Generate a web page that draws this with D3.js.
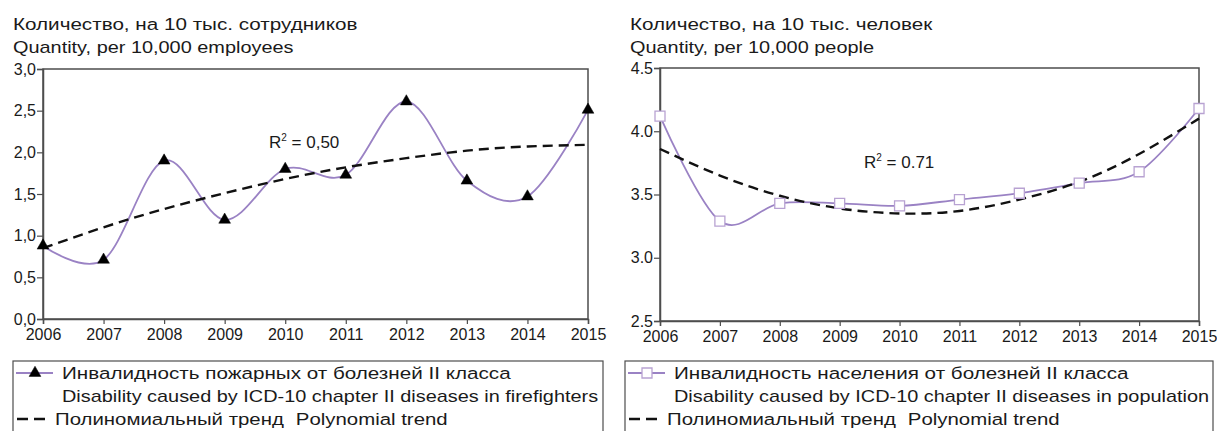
<!DOCTYPE html>
<html>
<head>
<meta charset="utf-8">
<script src="https://cdn.jsdelivr.net/npm/d3@7"></script>
<style>
  body { margin: 0; background: #fff; }
  text { font-family: "Liberation Sans", Arial, sans-serif; fill: #1a1a1a; }
</style>
</head>
<body>
<script>
//data
var years = [2006, 2007, 2008, 2009, 2010, 2011, 2012, 2013, 2014, 2015];
var fireValues = [0.88, 0.71, 1.90, 1.19, 1.80, 1.73, 2.61, 1.66, 1.47, 2.51];
var fireTrend = [0.85, 1.10, 1.32, 1.51, 1.68, 1.82, 1.93, 2.02, 2.07, 2.09];
var popValues = [4.12, 3.29, 3.43, 3.43, 3.41, 3.46, 3.51, 3.59, 3.68, 4.18];
var popTrend = [3.86, 3.65, 3.49, 3.39, 3.35, 3.37, 3.46, 3.60, 3.82, 4.10];
var fireTicks = [0, 0.5, 1.0, 1.5, 2.0, 2.5, 3.0];
var popTicks = [2.5, 3.0, 3.5, 4.0, 4.5];

var purple = "#9a82c4",
    SX_CYR = 1.215, //cyrillic text looks stretched sideways
    SX_LAT = 1.17;

var width = 1217, height = 431;
var svg = d3.select("body").append("svg")
    .attr("width", width)
    .attr("height", height);

//text helper, stretched horizontally
function wideText(g, x, y, str, size, sx){
    return g.append("text")
        .attr("transform", "translate(" + x + "," + y + ") scale(" + sx + ",1)")
        .attr("font-size", size)
        .text(str);
}

function drawPanel(opt){
    var g = svg.append("g");

    var x = d3.scaleLinear().domain([2006, 2015]).range([opt.left, opt.right]);
    var y = d3.scaleLinear().domain(opt.domain).range([opt.bottom, opt.top]);

    //titles
    wideText(g, opt.titleX, 30, opt.title1, 17, SX_CYR);
    wideText(g, opt.titleX, 53, opt.title2, 17, SX_LAT);

    //frame
    g.append("rect")
        .attr("x", opt.left).attr("y", opt.top)
        .attr("width", opt.right - opt.left)
        .attr("height", opt.bottom - opt.top)
        .attr("fill", "none")
        .attr("stroke", "#4d4d4d")
        .attr("stroke-width", 1.5);

    //axes
    var yAxis = g.append("g")
        .attr("transform", "translate(" + opt.left + ",0)")
        .call(d3.axisLeft(y).tickValues(opt.ticks).tickSize(6).tickPadding(1)
            .tickFormat(opt.fmt));
    var xAxis = g.append("g")
        .attr("transform", "translate(0," + opt.bottom + ")")
        .call(d3.axisBottom(x).tickValues(years).tickSize(5).tickPadding(5)
            .tickFormat(d3.format("d")));
    [yAxis, xAxis].forEach(function(a){
        a.select(".domain").attr("stroke", "#4d4d4d").attr("stroke-width", 1.5);
        a.selectAll(".tick line").attr("stroke", "#4d4d4d").attr("stroke-width", 1.2);
        a.selectAll("text").attr("font-size", 16).attr("fill", "#1a1a1a")
            .style("font-family", "Liberation Sans, Arial, sans-serif");
    });

    //series line, smoothed like the spreadsheet
    var line = d3.line()
        .x(function(d, i){ return x(years[i]); })
        .y(function(d){ return y(d); })
        .curve(d3.curveCardinal.tension(0));
    g.append("path")
        .datum(opt.values)
        .attr("d", line)
        .attr("fill", "none")
        .attr("stroke", purple)
        .attr("stroke-width", 1.8);

    //trend line
    var trend = d3.line()
        .x(function(d, i){ return x(years[i]); })
        .y(function(d){ return y(d); })
        .curve(d3.curveNatural);
    g.append("path")
        .datum(opt.trend)
        .attr("d", trend)
        .attr("fill", "none")
        .attr("stroke", "#111")
        .attr("stroke-width", 2.4)
        .attr("stroke-dasharray", "10,6");

    //markers
    g.selectAll(".mark")
        .data(opt.values)
        .enter()
        .append("path")
        .attr("class", "mark")
        .attr("transform", function(d, i){
            return "translate(" + x(years[i]) + "," + y(d) + ")";
        })
        .attr("d", opt.symbol)
        .attr("fill", opt.markFill)
        .attr("stroke", opt.markStroke)
        .attr("stroke-width", opt.markWidth);

    //R squared label
    var r = g.append("text")
        .attr("x", opt.rX).attr("y", opt.rY)
        .attr("font-size", 17);
    r.append("tspan").text("R");
    r.append("tspan").attr("font-size", 10).attr("dy", -7).text("2");
    r.append("tspan").attr("dy", 7).text(" = " + opt.r2);

    //legend box, runs off the bottom
    var lg = g.append("g");
    lg.append("rect")
        .attr("x", opt.legX).attr("y", 361)
        .attr("width", opt.legW).attr("height", 100)
        .attr("fill", "#fff")
        .attr("stroke", "#4d4d4d")
        .attr("stroke-width", 1.2);
    lg.append("line")
        .attr("x1", opt.legX + 3).attr("x2", opt.legX + 40)
        .attr("y1", 373).attr("y2", 373)
        .attr("stroke", purple).attr("stroke-width", 1.8);
    lg.append("path")
        .attr("transform", "translate(" + (opt.legX + 22) + ",373)")
        .attr("d", opt.symbol)
        .attr("fill", opt.markFill)
        .attr("stroke", opt.markStroke)
        .attr("stroke-width", opt.markWidth);
    lg.append("line")
        .attr("x1", opt.legX + 4).attr("x2", opt.legX + 32)
        .attr("y1", 419).attr("y2", 419)
        .attr("stroke", "#111").attr("stroke-width", 2.4)
        .attr("stroke-dasharray", "11,6");
    wideText(lg, opt.legX + 49, 379, opt.leg1, 17, SX_CYR);
    wideText(lg, opt.legX + 49, 402, opt.leg2, 17, SX_LAT);
    var t3 = wideText(lg, opt.legX + 42, 425, "Полиномиальный тренд", 17, 1.2);
    t3.append("tspan").attr("dx", 10).text("Polynomial trend");
}

drawPanel({
    left: 43, right: 588, top: 69, bottom: 319,
    domain: [0, 3], ticks: fireTicks,
    fmt: function(d){ return d3.format(".1f")(d).replace(".", ","); },
    values: fireValues, trend: fireTrend,
    symbol: d3.symbol(d3.symbolTriangle, 60)(),
    markFill: "#000", markStroke: "#000", markWidth: 0.5,
    title1: "Количество, на 10 тыс. сотрудников",
    title2: "Quantity, per 10,000 employees",
    titleX: 13,
    r2: "0,50", rX: 269, rY: 148,
    legX: 13, legW: 590,
    leg1: "Инвалидность пожарных от болезней II класса",
    leg2: "Disability caused by ICD-10 chapter II diseases in firefighters"
});

drawPanel({
    left: 660, right: 1199, top: 68, bottom: 321,
    domain: [2.5, 4.5], ticks: popTicks,
    fmt: d3.format(".1f"),
    values: popValues, trend: popTrend,
    symbol: d3.symbol(d3.symbolSquare, 100)(),
    markFill: "#fff", markStroke: "#b8a2d2", markWidth: 1.3,
    title1: "Количество, на 10 тыс. человек",
    title2: "Quantity, per 10,000 people",
    titleX: 630,
    r2: "0.71", rX: 864, rY: 168,
    legX: 625, legW: 588,
    leg1: "Инвалидность населения от болезней II класса",
    leg2: "Disability caused by ICD-10 chapter II diseases in population"
});
</script>
</body>
</html>
